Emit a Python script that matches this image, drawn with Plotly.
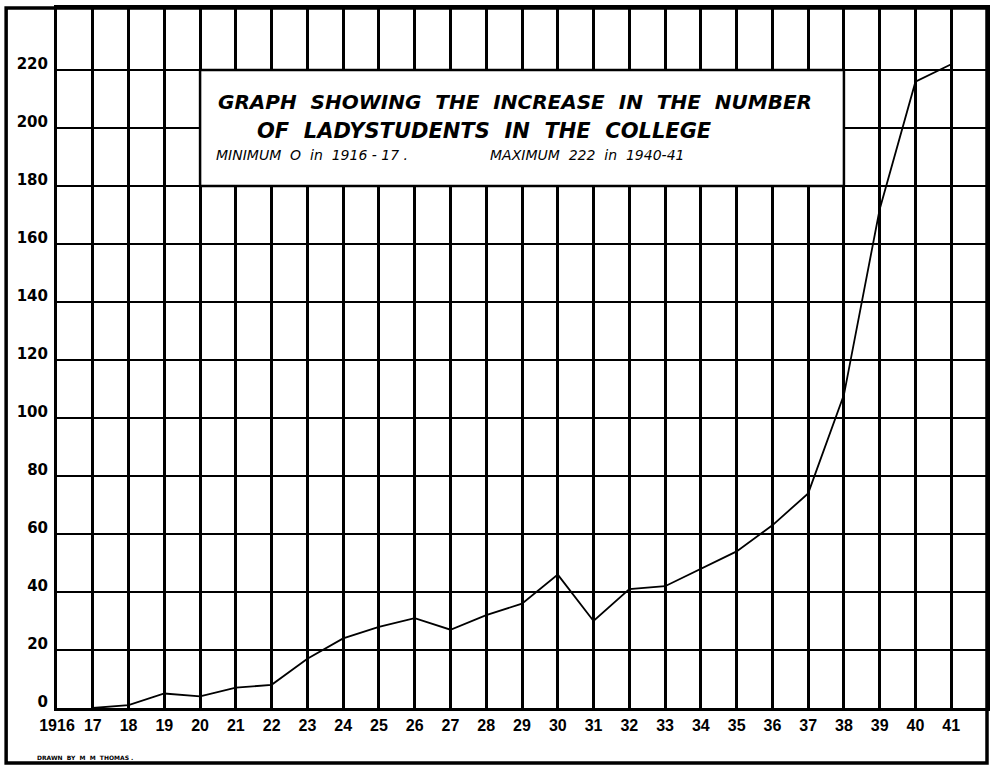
import plotly.graph_objects as go

# ---- data ----
years = [1917, 1918, 1919, 1920, 1921, 1922, 1923, 1924, 1925, 1926, 1927, 1928, 1929,
         1930, 1931, 1932, 1933, 1934, 1935, 1936, 1937, 1938, 1939, 1940, 1941]
students = [0, 1, 5, 4, 7, 8, 17, 24, 28, 31, 27, 32, 36,
            46, 30, 41, 42, 48, 54, 63, 74, 108, 172, 216, 222]

x_tick_vals = list(range(1916, 1942))
x_tick_text = ["1916"] + [str(v % 100) for v in range(1917, 1942)]
y_tick_vals = list(range(0, 221, 20))
y_tick_text = [str(v) for v in y_tick_vals]

title_line1 = "GRAPH  SHOWING  THE  INCREASE  IN  THE  NUMBER"
title_line2 = "OF  LADYSTUDENTS  IN  THE  COLLEGE"
note_min = "MINIMUM  O  in  1916 - 17 ."
note_max = "MAXIMUM  222  in  1940-41"
credit = "DRAWN  BY  M  M  THOMAS ."

FONT = "DejaVu Sans"

fig = go.Figure()
fig.add_trace(go.Scatter(
    x=years, y=students, mode="lines",
    line=dict(color="black", width=1.8),
    hoverinfo="skip", showlegend=False,
))

fig.update_layout(
    width=992, height=768,
    margin=dict(l=57, r=2, t=8, b=60),
    paper_bgcolor="white", plot_bgcolor="white",
    showlegend=False,
    xaxis=dict(
        range=[1916, 1942], tickvals=x_tick_vals,
        ticktext=["<b>%s</b>" % t for t in x_tick_text],
        showgrid=True, gridcolor="black", gridwidth=2.5,
        showline=True, linecolor="black", linewidth=3, mirror=True,
        zeroline=False, ticks="", ticklabelstandoff=1,
        tickfont=dict(family="Liberation Sans", size=16, color="black"),
        fixedrange=True,
    ),
    yaxis=dict(
        range=[0, 241.4], tickvals=y_tick_vals,
        ticktext=["<b>%s</b>" % t for t in y_tick_text],
        showgrid=True, gridcolor="black", gridwidth=2.2,
        showline=True, linecolor="black", linewidth=3, mirror=True,
        zeroline=False, ticks="", ticklabelstandoff=3, ticklabelshift=-6,
        tickfont=dict(family=FONT, size=15, color="black"),
        fixedrange=True,
    ),
    shapes=[
        # white title panel covering the grid
        dict(type="rect", xref="x", yref="y", x0=1920, x1=1938, y0=180, y1=220,
             fillcolor="white", line=dict(color="black", width=2.5), layer="above"),
        # outer frame of the sheet
        dict(type="rect", xref="paper", yref="paper",
             x0=-0.0547, x1=1.0, y0=-0.0786, y1=1.0,
             fillcolor="rgba(0,0,0,0)", line=dict(color="black", width=3.5), layer="above"),
    ],
    annotations=[
        dict(x=1928.8, y=209, xref="x", yref="y", text="<b><i>%s</i></b>" % title_line1,
             showarrow=False, font=dict(family=FONT, size=20, color="black")),
        dict(x=1927.95, y=199, xref="x", yref="y", text="<b><i>%s</i></b>" % title_line2,
             showarrow=False, font=dict(family=FONT, size=21, color="black")),
        dict(x=1920.4, y=190.6, xref="x", yref="y", text="<i>%s</i>" % note_min,
             xanchor="left", showarrow=False, font=dict(family=FONT, size=14, color="black")),
        dict(x=1928.05, y=190.6, xref="x", yref="y", text="<i>%s</i>" % note_max,
             xanchor="left", showarrow=False, font=dict(family=FONT, size=14, color="black")),
        dict(x=-0.0237, y=-0.07, xref="paper", yref="paper", text="<b>%s</b>" % credit,
             xanchor="left", yanchor="middle", showarrow=False,
             font=dict(family=FONT, size=6, color="black")),
    ],
)

fig.write_html("out.html", config={"displayModeBar": False},
               post_script="document.body.style.margin='0';document.body.style.overflow='hidden';")
